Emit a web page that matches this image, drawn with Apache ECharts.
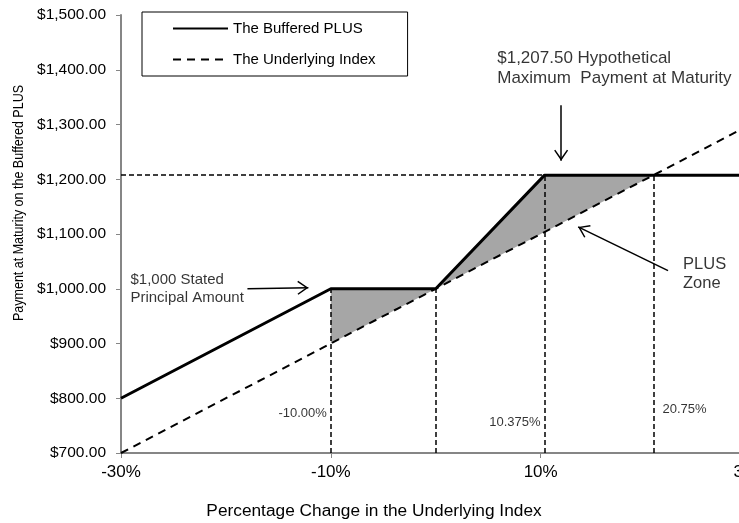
<!DOCTYPE html>
<html>
<head>
<meta charset="utf-8" />
<title>Buffered PLUS</title>
<script src="https://cdn.jsdelivr.net/npm/echarts@6/dist/echarts.min.js"></script>
<style>
  html, body { margin: 0; padding: 0; background: #fff; }
  #chart { width: 739px; height: 523px; }
</style>
</head>
<body>
<div id="chart"></div>
<script>
// payoff curves (x = % change of the underlying, y = payment in $)
var xPct = [-30, -10, 0, 10.375, 20.75, 30];
var bufferedPlus = [800, 1000, 1000, 1207.5, 1207.5, 1207.5];
var underlyingX = [-30, 30];
var underlyingY = [700, 1300];
var maxPayment = 1207.5;

// grey "PLUS zone" outline
var zoneX = [-10, 0, 10.375, 20.75, -10];
var zoneY = [1000, 1000, 1207.5, 1207.5, 900];

// dashed guides dropped to the x axis
var guideX = [-10, 0, 10.375, 20.75];
var guideTop = [1000, 1000, 1207.5, 1207.5];
var guideText = ['-10.00%', '10.375%', '20.75%'];
var guideTextX = [-10, 10.375, 20.75];
var guideTextY = [773, 755, 780];
var guideTextSide = ['left', 'left', 'right'];

// callouts
var noteText = ['$1,207.50 Hypothetical\nMaximum  Payment at Maturity', 'PLUS\nZone', '$1,000 Stated\nPrincipal Amount'];
var noteX = [5.86, 23.57, -29.1];
var noteY = [1403, 1027, 1000];
var noteSize = [17, 16.5, 15];
var arrowFrom = [[11.95, 1335], [22.14, 1033], [-17.95, 1000]];
var arrowTo = [[11.95, 1234], [13.57, 1113], [-12.14, 1002]];

var font = 'Arial, "Liberation Sans", sans-serif';
// open arrow head, tip at the centre of its box
var chevron = 'path://M0,0 L7,10 L5.8,10.9 L0,2.5 L-5.8,10.9 L-7,10 Z M0,-10.9 L0.01,-10.9 L0,-10.89 Z';

function money(v) {
  return '$' + v.toLocaleString('en-US', { minimumFractionDigits: 2, maximumFractionDigits: 2 });
}

var guideLines = [];
for (var i = 0; i < guideX.length; i++) {
  guideLines.push([{ coord: [guideX[i], 700] }, { coord: [guideX[i], guideTop[i]] }]);
}
guideLines.push([{ coord: [-30, maxPayment] }, { coord: [10.375, maxPayment] }]);

var arrows = [];
for (var i = 0; i < arrowFrom.length; i++) {
  arrows.push([{ coord: arrowFrom[i] }, { coord: arrowTo[i] }]);
}

var chart = echarts.init(document.getElementById('chart'));
chart.setOption({
  animation: false,
  textStyle: { fontFamily: font },
  grid: { left: 121, right: -11.5, top: 15, bottom: 70, outerBoundsMode: 'none' },
  legend: {
    data: ['The Buffered PLUS', 'The Underlying Index'],
    orient: 'vertical',
    left: 142,
    top: 12,
    padding: [9, 32, 9, 30],
    itemGap: 16,
    itemWidth: 55,
    itemHeight: 14,
    itemStyle: { opacity: 0 },
    borderColor: '#000',
    borderWidth: 1,
    textStyle: { fontSize: 15, color: '#000', fontFamily: font }
  },
  xAxis: {
    type: 'value',
    min: -30,
    max: 30,
    interval: 20,
    splitLine: { show: false },
    axisLine: { lineStyle: { color: '#868686', width: 2 } },
    axisTick: { show: true, length: 5, lineStyle: { color: '#868686' } },
    axisLabel: { fontSize: 17, color: '#000', margin: 11, formatter: function (v) { return v + '%'; } }
  },
  yAxis: {
    type: 'value',
    min: 700,
    max: 1500,
    interval: 100,
    splitLine: { show: false },
    axisLine: { show: true, onZero: false, lineStyle: { color: '#868686', width: 2 } },
    axisTick: { show: true, length: 5, lineStyle: { color: '#868686' } },
    axisLabel: { fontSize: 15.5, color: '#000', margin: 15, formatter: money }
  },
  graphic: [
    {
      type: 'text', x: 19, y: 203, rotation: Math.PI / 2, scaleY: 1.2,
      style: { text: 'Payment at Maturity on the Buffered PLUS', font: '12.5px ' + font, fill: '#000', align: 'center', verticalAlign: 'middle' }
    },
    {
      type: 'text', x: 374, y: 511,
      style: { text: 'Percentage Change in the Underlying Index', font: '17.3px ' + font, fill: '#000', align: 'center', verticalAlign: 'middle' }
    }
  ],
  series: [
    {
      type: 'custom',
      z: 1,
      silent: true,
      data: [[0, 1000]],
      renderItem: function (params, api) {
        var pts = [];
        for (var k = 0; k < zoneX.length; k++) pts.push(api.coord([zoneX[k], zoneY[k]]));
        return { type: 'polygon', shape: { points: pts }, style: { fill: '#a6a6a6' } };
      }
    },
    {
      name: 'The Underlying Index',
      type: 'line',
      z: 3,
      symbol: 'none',
      data: underlyingX.map(function (x, k) { return [x, underlyingY[k]]; }),
      lineStyle: { color: '#000', width: 2, type: [8, 6] },
      itemStyle: { color: '#000' },
      markLine: {
        silent: true,
        symbol: ['none', 'none'],
        label: { show: false },
        lineStyle: { color: '#000', width: 1.5, type: [5, 3] },
        data: guideLines
      }
    },
    {
      name: 'The Buffered PLUS',
      type: 'line',
      z: 4,
      symbol: 'none',
      data: xPct.map(function (x, k) { return [x, bufferedPlus[k]]; }),
      lineStyle: { color: '#000', width: 3 },
      itemStyle: { color: '#000' },
      markLine: {
        silent: true,
        symbol: ['none', chevron],
        symbolSize: [14, 22],
        label: { show: false },
        lineStyle: { color: '#000', width: 1.5, type: 'solid' },
        itemStyle: { color: '#000' },
        data: arrows
      }
    },
    {
      type: 'scatter',
      silent: true,
      symbolSize: 0,
      data: guideTextX.map(function (x, k) {
        return {
          value: [x, guideTextY[k]],
          name: guideText[k],
          label: { position: guideTextSide[k], distance: guideTextSide[k] === 'right' ? 9 : 4 }
        };
      }),
      label: { show: true, fontSize: 13, color: '#000', formatter: '{b}' }
    },
    {
      type: 'scatter',
      silent: true,
      symbolSize: 0,
      data: noteX.map(function (x, k) {
        return {
          value: [x, noteY[k]],
          name: noteText[k],
          label: { fontSize: noteSize[k], lineHeight: noteSize[k] + 3 }
        };
      }),
      label: {
        show: true,
        color: '#000',
        formatter: '{b}',
        position: 'right',
        distance: 0
      }
    }
  ]
});
</script>
</body>
</html>
